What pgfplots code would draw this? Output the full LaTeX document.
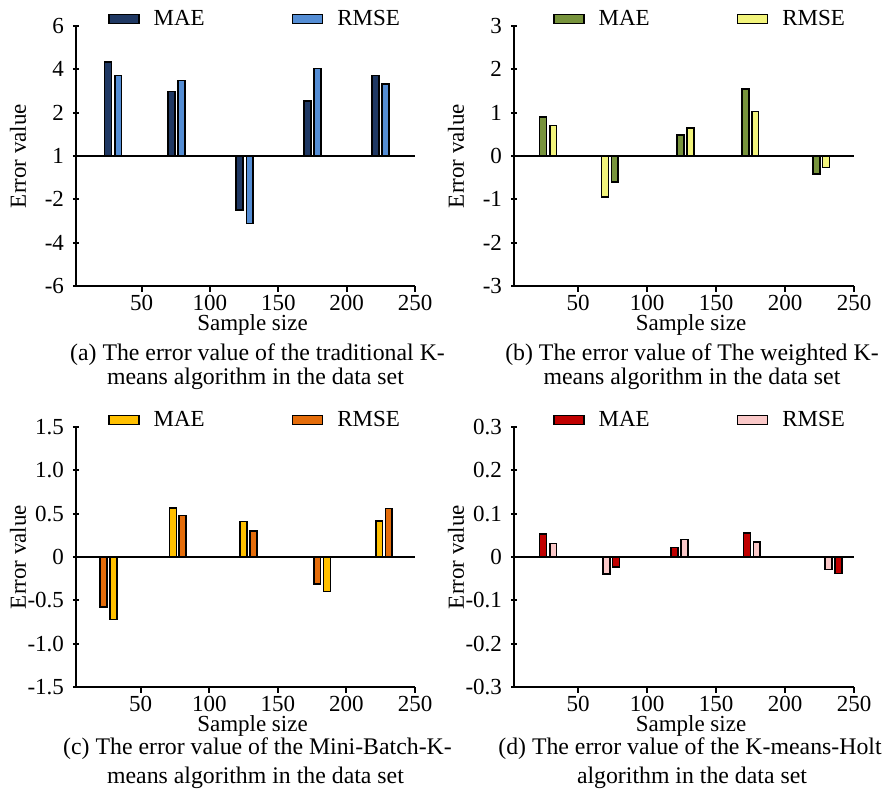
\documentclass[border=0pt]{standalone}
\usepackage{fontspec}
\setmainfont{Liberation Serif}
\usepackage{pgfplots}
\pgfplotsset{compat=1.18}

\definecolor{aMAE}{RGB}{31,56,99}
\definecolor{aRMSE}{RGB}{84,141,212}
\definecolor{bMAE}{RGB}{119,147,60}
\definecolor{bRMSE}{RGB}{242,244,124}
\definecolor{cMAE}{RGB}{255,192,0}
\definecolor{cRMSE}{RGB}{228,108,10}
\definecolor{dMAE}{RGB}{192,0,0}
\definecolor{dRMSE}{RGB}{250,200,200}

\newcommand{\fs}{\fontsize{11.5}{13.8}\selectfont}
\newcommand{\cs}{\fontsize{11.9}{14}\selectfont}

% one px of the reference = 0.5pt
\pgfplotsset{
  panel/.style={
    scale only axis,
    width=170pt, height=130pt,
    anchor=south west,
    clip mode=individual,
    axis lines=left,
    axis line style={-, line width=1pt},
    tick style={black, line width=1pt},
    major tick length=3pt,
    xmax=250,
    xtick={50,100,150,200,250},
    xticklabels={50,100,150,200,250},
    ticklabel style={font=\fs},
    xticklabel style={yshift=2pt},
    yticklabel style={xshift=-1pt},
    ybar, bar width=5,
    every axis plot/.append style={bar shift=0pt},
    xlabel={Sample size}, ylabel={Error value},
    every axis x label/.style={at={(axis description cs:0.5,0)}, xshift=3.5pt, yshift=-22.3pt, anchor=base, font=\fs},
    every axis y label/.style={at={(axis description cs:0,0.5)}, xshift=-29pt, rotate=90, anchor=center, font=\fs},
    legend columns=2,
    legend style={draw=none, fill=none, inner sep=0pt, outer sep=0pt,
      at={(axis description cs:0,1)}, anchor=west, xshift=16pt, yshift=3.5pt,
      font=\fs,
      /tikz/every odd column/.append style={column sep=5pt},
      /tikz/every even column/.append style={column sep=41.5pt}},
  },
  bars/.style={fill=#1, draw=black, line width=0.8pt,
    legend image code/.code={\draw[##1] (0pt,-2.2pt) rectangle (15pt,2.2pt);}},
}

\newcommand{\zeroline}{\draw[line width=0.8pt] ({rel axis cs:0,0}|-{axis cs:0,0}) -- ({rel axis cs:1,0}|-{axis cs:0,0});}

\begin{document}
\begin{tikzpicture}
\useasboundingbox (0,0) rectangle (445pt,395.5pt);

% (a)
\begin{axis}[panel, at={(38pt,252.5pt)}, width=169.5pt, xmin=2,
  ymin=-6, ymax=6, ytick={-6,-4,-2,0,2,4,6},
  yticklabels={-6,-4,-2,1,2,4,6}]
\addplot[bars=aMAE] coordinates {(25.4,4.34) (71.8,2.97) (121.6,-2.49) (171.4,2.54) (221,3.71)};
\addplot[bars=aRMSE] coordinates {(32.9,3.72) (79.2,3.49) (129.1,-3.11) (178.8,4.03) (228.5,3.31)};
\legend{MAE,RMSE}
\zeroline
\node[font=\cs, anchor=base] at (axis description cs:0.5,0) [xshift=6pt, yshift=-37.2pt] {(a) The error value of the traditional K-};
\node[font=\cs, anchor=base] at (axis description cs:0.5,0) [xshift=5pt, yshift=-49.5pt] {means algorithm in the data set};
\end{axis}

% (b)
\begin{axis}[panel, at={(257pt,252.5pt)}, xmin=3.5,
  ymin=-3, ymax=3, ytick={-3,-2,-1,0,1,2,3},
  yticklabels={-3,-2,-1,0,1,2,3},
  legend style={xshift=3.5pt}]
\addplot[bars=bMAE] coordinates {(24.6,0.90) (76.6,-0.60) (124.2,0.49) (171.5,1.54) (222.7,-0.42)};
\addplot[bars=bRMSE] coordinates {(31.9,0.70) (69.5,-0.94) (131.5,0.64) (178.4,1.03) (229.8,-0.27)};
\legend{MAE,RMSE}
\zeroline
\node[font=\cs, anchor=base] at (axis description cs:0.5,0) [xshift=4pt, yshift=-37.2pt] {(b) The error value of The weighted K-};
\node[font=\cs, anchor=base] at (axis description cs:0.5,0) [xshift=4pt, yshift=-49.5pt] {means algorithm in the data set};
\end{axis}

% (c)
\begin{axis}[panel, at={(38pt,52pt)}, width=169.5pt, xmin=2.8,
  ymin=-1.5, ymax=1.5, ytick={-1.5,-1,-0.5,0,0.5,1,1.5},
  yticklabels={-1.5,-1.0,-0.5,0,0.5,1.0,1.5}]
\addplot[bars=cMAE] coordinates {(30.0,-0.72) (73.5,0.565) (125.0,0.41) (185.8,-0.40) (223.9,0.415)};
\addplot[bars=cRMSE] coordinates {(22.7,-0.58) (80.6,0.48) (132.1,0.30) (178.7,-0.31) (230.9,0.56)};
\legend{MAE,RMSE}
\zeroline
\node[font=\cs, anchor=base] at (axis description cs:0.5,0) [xshift=6pt, yshift=-34pt] {(c) The error value of the Mini-Batch-K-};
\node[font=\cs, anchor=base] at (axis description cs:0.5,0) [xshift=5pt, yshift=-48.5pt] {means algorithm in the data set};
\end{axis}

% (d)
\begin{axis}[panel, at={(257pt,52pt)}, xmin=3.5,
  ymin=-0.3, ymax=0.3, ytick={-0.3,-0.2,-0.1,0,0.1,0.2,0.3},
  yticklabels={-0.3,-0.2,-0.1,0,0.1,0.2,0.3},
  legend style={xshift=3.5pt}]
\addplot[bars=dMAE] coordinates {(24.6,0.053) (77.5,-0.023) (120.0,0.022) (172.5,0.056) (238.7,-0.038)};
\addplot[bars=dRMSE] coordinates {(31.9,0.031) (70.4,-0.039) (127.1,0.040) (179.5,0.034) (231.4,-0.029)};
\legend{MAE,RMSE}
\zeroline
\node[font=\cs, anchor=base] at (axis description cs:0.5,0) [xshift=3pt, yshift=-34pt] {(d) The error value of the K-means-Holt};
\node[font=\cs, anchor=base] at (axis description cs:0.5,0) [xshift=4pt, yshift=-48.5pt] {algorithm in the data set};
\end{axis}
\end{tikzpicture}
\end{document}
